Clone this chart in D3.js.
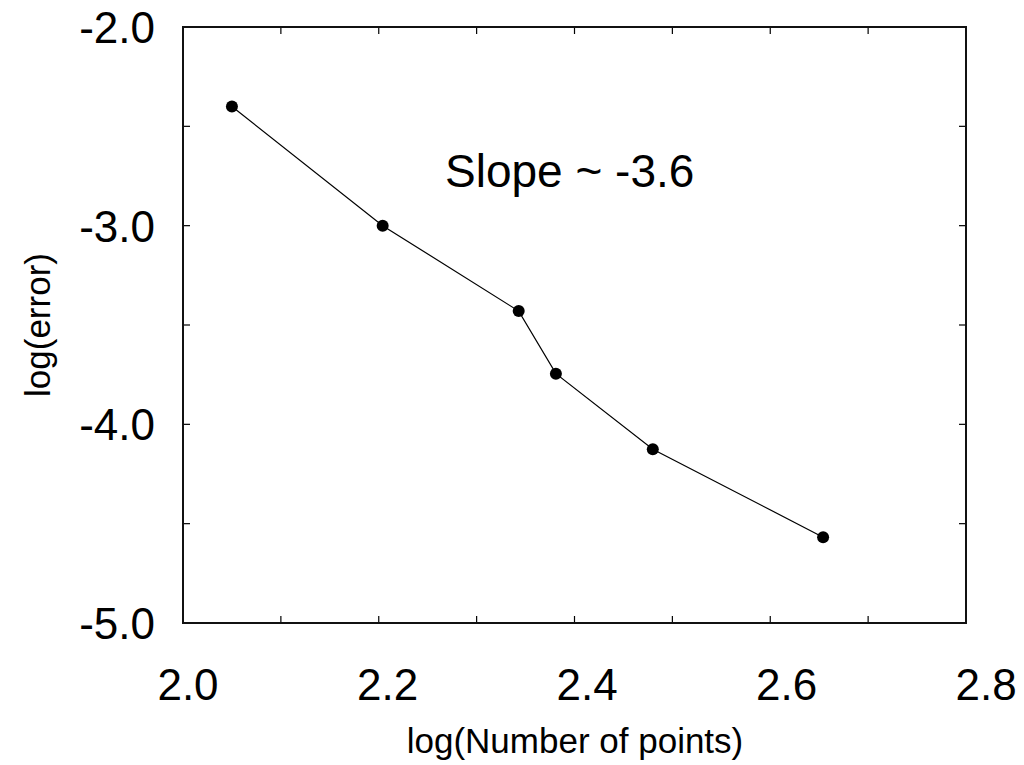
<!DOCTYPE html>
<html>
<head>
<meta charset="utf-8">
<script src="https://cdn.jsdelivr.net/npm/d3@7/dist/d3.min.js"></script>
<style>
  html, body { margin: 0; padding: 0; background: #fff; }
  svg { display: block; font-family: "Liberation Sans", Arial, sans-serif; }
</style>
</head>
<body>
<svg id="chart" width="1024" height="765"></svg>
<script>
// Convergence data: log10 of the number of points vs. log10 of the error
const logPoints = [2.05, 2.204, 2.343, 2.381, 2.48, 2.654];
const logError = [-2.40, -3.00, -3.43, -3.745, -4.125, -4.568];

const xTickLabels = [2.0, 2.2, 2.4, 2.6, 2.8];
const yTickLabels = [-2.0, -3.0, -4.0, -5.0];
const xMinorTicks = d3.range(0, 9).map(i => 2.0 + i * 0.1);
const yMinorTicks = d3.range(0, 7).map(i => -2.0 - i * 0.5);

const annotation = "Slope ~ -3.6";
const xTitle = "log(Number of points)";
const yTitle = "log(error)";

const svg = d3.select("#chart");
const plotL = 183, plotR = 966, plotT = 27, plotB = 623;

const x = d3.scaleLinear().domain([2.0, 2.8]).range([plotL, plotR]);
const y = d3.scaleLinear().domain([-5.0, -2.0]).range([plotB, plotT]);

// Inward ticks on all four sides
const tickLen = 7;
const tickG = svg.append("g").attr("stroke", "#000").attr("stroke-width", 1.2);
xMinorTicks.forEach(v => {
  tickG.append("line").attr("x1", x(v)).attr("x2", x(v)).attr("y1", plotB).attr("y2", plotB - tickLen);
  tickG.append("line").attr("x1", x(v)).attr("x2", x(v)).attr("y1", plotT).attr("y2", plotT + tickLen);
});
yMinorTicks.forEach(v => {
  tickG.append("line").attr("x1", plotL).attr("x2", plotL + tickLen).attr("y1", y(v)).attr("y2", y(v));
  tickG.append("line").attr("x1", plotR).attr("x2", plotR - tickLen).attr("y1", y(v)).attr("y2", y(v));
});

// Frame
svg.append("rect")
  .attr("x", plotL).attr("y", plotT)
  .attr("width", plotR - plotL).attr("height", plotB - plotT)
  .attr("fill", "none").attr("stroke", "#111").attr("stroke-width", 2);

// Tick labels
svg.append("g").selectAll("text").data(xTickLabels).join("text")
  .attr("x", d => x(d) + 5 + (d - 2.0) * 19)
  .attr("y", 700)
  .attr("text-anchor", "middle")
  .attr("font-size", 44)
  .text(d => d.toFixed(1));

svg.append("g").selectAll("text").data(yTickLabels).join("text")
  .attr("x", 155)
  .attr("y", d => y(d) + 16)
  .attr("text-anchor", "end")
  .attr("font-size", 44)
  .text(d => d.toFixed(1));

// Axis titles
svg.append("text")
  .attr("x", 575).attr("y", 753)
  .attr("text-anchor", "middle")
  .attr("font-size", 35)
  .text(xTitle);

svg.append("text")
  .attr("transform", "translate(50,325) rotate(-90)")
  .attr("text-anchor", "middle")
  .attr("font-size", 35)
  .text(yTitle);

// Data line and markers
const pts = logPoints.map((v, i) => [v, logError[i]]);
svg.append("path")
  .datum(pts)
  .attr("fill", "none")
  .attr("stroke", "#000")
  .attr("stroke-width", 1.2)
  .attr("d", d3.line().x(d => x(d[0])).y(d => y(d[1])));

svg.append("g").selectAll("circle").data(pts).join("circle")
  .attr("cx", d => x(d[0]))
  .attr("cy", d => y(d[1]))
  .attr("r", 6)
  .attr("fill", "#000");

// Slope annotation
svg.append("text")
  .attr("x", 445).attr("y", 187)
  .attr("font-size", 46)
  .text(annotation);
</script>
</body>
</html>
